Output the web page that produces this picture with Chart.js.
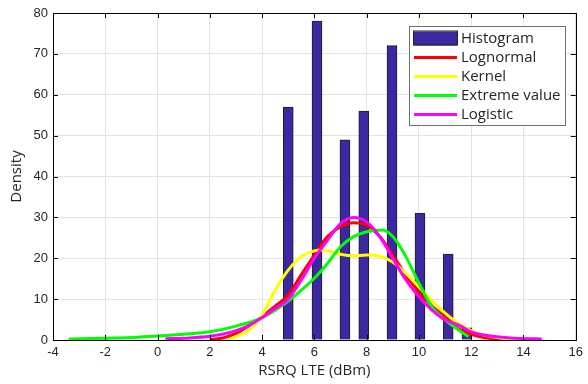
<!DOCTYPE html>
<html>
<head>
<meta charset="utf-8">
<script src="https://cdn.jsdelivr.net/npm/chart.js@4/dist/chart.umd.min.js"></script>
<style>
  html, body { margin: 0; padding: 0; background: #fff; }
  #wrap { width: 588px; height: 384px; }
</style>
</head>
<body>
<div id="wrap"><canvas id="fitChart"></canvas></div>
<script>
// histogram bins (RSRQ LTE, dBm) and counts
const binCenters = [5.0, 6.1, 7.17, 7.89, 8.97, 10.04, 11.12, 11.84];
const binCounts = [57, 78, 49, 56, 72, 31, 21, 3];

// fitted curves
const lognormalX = [2.0, 2.5, 3, 3.5, 4, 4.5, 5, 5.5, 6, 6.5, 7, 7.5, 8, 8.5, 9, 9.5, 10, 10.5, 11, 11.5, 12, 12.5, 13, 13.2];
const lognormalY = [0.1, 0.5, 1.6, 3.5, 5.7, 8.3, 11.0, 16.0, 20.8, 25.3, 27.7, 28.7, 28.1, 25.3, 20.8, 15.9, 11.8, 8.3, 5.7, 2.8, 1.4, 0.6, 0.2, 0.1];

const kernelX = [2.7, 3, 3.5, 4, 4.5, 5, 5.5, 6, 6.3, 6.5, 7, 7.5, 8, 8.5, 9, 9.5, 10, 10.5, 11, 11.5, 12, 12.5, 13, 13.5, 13.7];
const kernelY = [0, 0.8, 2.4, 6.1, 12.2, 17.1, 20.4, 21.8, 22.0, 21.8, 21.0, 20.6, 20.8, 20.5, 19.1, 16.3, 13.0, 9.6, 6.6, 4.1, 2.3, 1.2, 0.6, 0.2, 0.1];

const extremeX = [-3.4, -3, -2, -1, 0, 1, 2, 3, 4, 4.5, 5, 5.5, 6, 6.5, 7, 7.5, 8, 8.6, 9, 9.5, 10, 10.5, 11, 11.5, 11.9];
const extremeY = [0.25, 0.3, 0.4, 0.6, 1.0, 1.4, 2.0, 3.4, 5.5, 7.3, 9.5, 12.2, 15.1, 18.7, 22.8, 25.3, 26.5, 26.9, 25.3, 20.4, 13.9, 8.1, 4.9, 2.5, 0.8];

const logisticX = [0.3, 1, 2, 3, 3.5, 4, 4.5, 5, 5.5, 6, 6.5, 7, 7.5, 8, 8.5, 9, 9.5, 10, 10.5, 11, 11.5, 12, 12.5, 13, 13.5, 14, 14.7];
const logisticY = [0.3, 0.45, 0.9, 2.3, 3.6, 5.5, 7.7, 10.0, 14.7, 20.0, 24.4, 28.5, 30.0, 28.9, 25.3, 20.0, 14.7, 10.6, 7.3, 4.9, 3.7, 2.0, 1.2, 0.8, 0.5, 0.35, 0.25];

// axis ticks
const xTicks = [-4, -2, 0, 2, 4, 6, 8, 10, 12, 14, 16];
const yTicks = [0, 10, 20, 30, 40, 50, 60, 70, 80];

const barColor = "#3b28a2";
const legendItems = [
  { label: "Histogram", color: barColor, bar: true },
  { label: "Lognormal", color: "#ff0000" },
  { label: "Kernel", color: "#ffff00" },
  { label: "Extreme value", color: "#00ff00" },
  { label: "Logistic", color: "#ff00ff" },
];

function pts(xs, ys) {
  return xs.map((x, i) => ({ x: x, y: ys[i] }));
}

function curve(label, xs, ys, color, order) {
  return {
    type: "line",
    label: label,
    data: pts(xs, ys),
    borderColor: color,
    backgroundColor: color,
    borderWidth: 3,
    pointRadius: 0,
    cubicInterpolationMode: "monotone",
    fill: false,
    order: order,
  };
}

// frame, inward tick marks and the boxed legend
const matlabAxes = {
  id: "matlabAxes",
  afterDraw(chart) {
    const { ctx, chartArea: a, scales } = chart;
    ctx.save();
    ctx.strokeStyle = "#000";
    ctx.lineWidth = 1;
    ctx.beginPath();
    xTicks.forEach((v) => {
      const px = Math.round(scales.x.getPixelForValue(v)) + 0.5;
      ctx.moveTo(px, a.bottom); ctx.lineTo(px, a.bottom - 5);
      ctx.moveTo(px, a.top); ctx.lineTo(px, a.top + 5);
    });
    yTicks.forEach((v) => {
      const py = Math.round(scales.y.getPixelForValue(v)) + 0.5;
      ctx.moveTo(a.left, py); ctx.lineTo(a.left + 5, py);
      ctx.moveTo(a.right, py); ctx.lineTo(a.right - 5, py);
    });
    ctx.stroke();
    ctx.strokeRect(Math.round(a.left) + 0.5, Math.round(a.top) + 0.5,
      Math.round(a.right - a.left), Math.round(a.bottom - a.top));

    // legend
    const lx = 409.5, ly = 26.5, lw = 156, lh = 99;
    ctx.fillStyle = "#fff";
    ctx.fillRect(lx, ly, lw, lh);
    ctx.strokeStyle = "#6e6e6e";
    ctx.strokeRect(lx, ly, lw, lh);
    ctx.font = '15px "Open Sans"';
    ctx.textBaseline = "middle";
    legendItems.forEach((item, i) => {
      const cy = 38.5 + i * 19;
      if (item.bar) {
        ctx.fillStyle = item.color;
        ctx.fillRect(414, cy - 7, 43, 14);
        ctx.strokeStyle = "#222";
        ctx.strokeRect(413.5, cy - 7.5, 44, 14);
      } else {
        ctx.strokeStyle = item.color;
        ctx.lineWidth = 3;
        ctx.beginPath();
        ctx.moveTo(414, cy); ctx.lineTo(457, cy);
        ctx.stroke();
        ctx.lineWidth = 1;
      }
      ctx.fillStyle = "#262626";
      ctx.fillText(item.label, 461, cy);
    });
    ctx.restore();
  },
};

new Chart(document.getElementById("fitChart"), {
  type: "bar",
  data: {
    datasets: [
      {
        type: "bar",
        label: "Histogram",
        data: pts(binCenters, binCounts),
        backgroundColor: barColor,
        borderColor: "#1e1e1e",
        borderWidth: 1,
        barThickness: 10,
        order: 5,
      },
      curve("Lognormal", lognormalX, lognormalY, "#ff0000", 4),
      curve("Kernel", kernelX, kernelY, "#ffff00", 3),
      curve("Extreme value", extremeX, extremeY, "#00ff00", 2),
      curve("Logistic", logisticX, logisticY, "#ff00ff", 1),
    ],
  },
  options: {
    responsive: true,
    maintainAspectRatio: false,
    animation: false,
    layout: { padding: { top: 13, right: 9, left: 0, bottom: 0 } },
    plugins: {
      legend: { display: false },
      tooltip: { enabled: false },
    },
    scales: {
      x: {
        type: "linear",
        min: -4,
        max: 16,
        offset: false,
        afterFit: (s) => { s.height = 44; },
        afterBuildTicks: (s) => { s.ticks = xTicks.map((v) => ({ value: v })); },
        grid: { color: "#e3e3e3", drawTicks: false, offset: false },
        border: { display: false },
        ticks: {
          padding: 5,
          color: "#262626",
          font: { family: '"Liberation Sans", Arial, sans-serif', size: 13 },
          maxRotation: 0,
        },
        title: {
          display: true,
          text: "RSRQ LTE (dBm)",
          color: "#262626",
          font: { family: '"Open Sans", sans-serif', size: 15 },
          padding: { top: 0, bottom: 4 },
        },
      },
      y: {
        min: 0,
        max: 80,
        afterFit: (s) => { s.width = 53; },
        afterBuildTicks: (s) => { s.ticks = yTicks.map((v) => ({ value: v })); },
        grid: { color: "#e3e3e3", drawTicks: false },
        border: { display: false },
        ticks: {
          padding: 5,
          color: "#262626",
          font: { family: '"Liberation Sans", Arial, sans-serif', size: 13 },
        },
        title: {
          display: true,
          text: "Density",
          color: "#262626",
          font: { family: '"Open Sans", sans-serif', size: 15 },
          padding: { top: 8, bottom: 0 },
        },
      },
    },
  },
  plugins: [matlabAxes],
});
</script>
</body>
</html>
